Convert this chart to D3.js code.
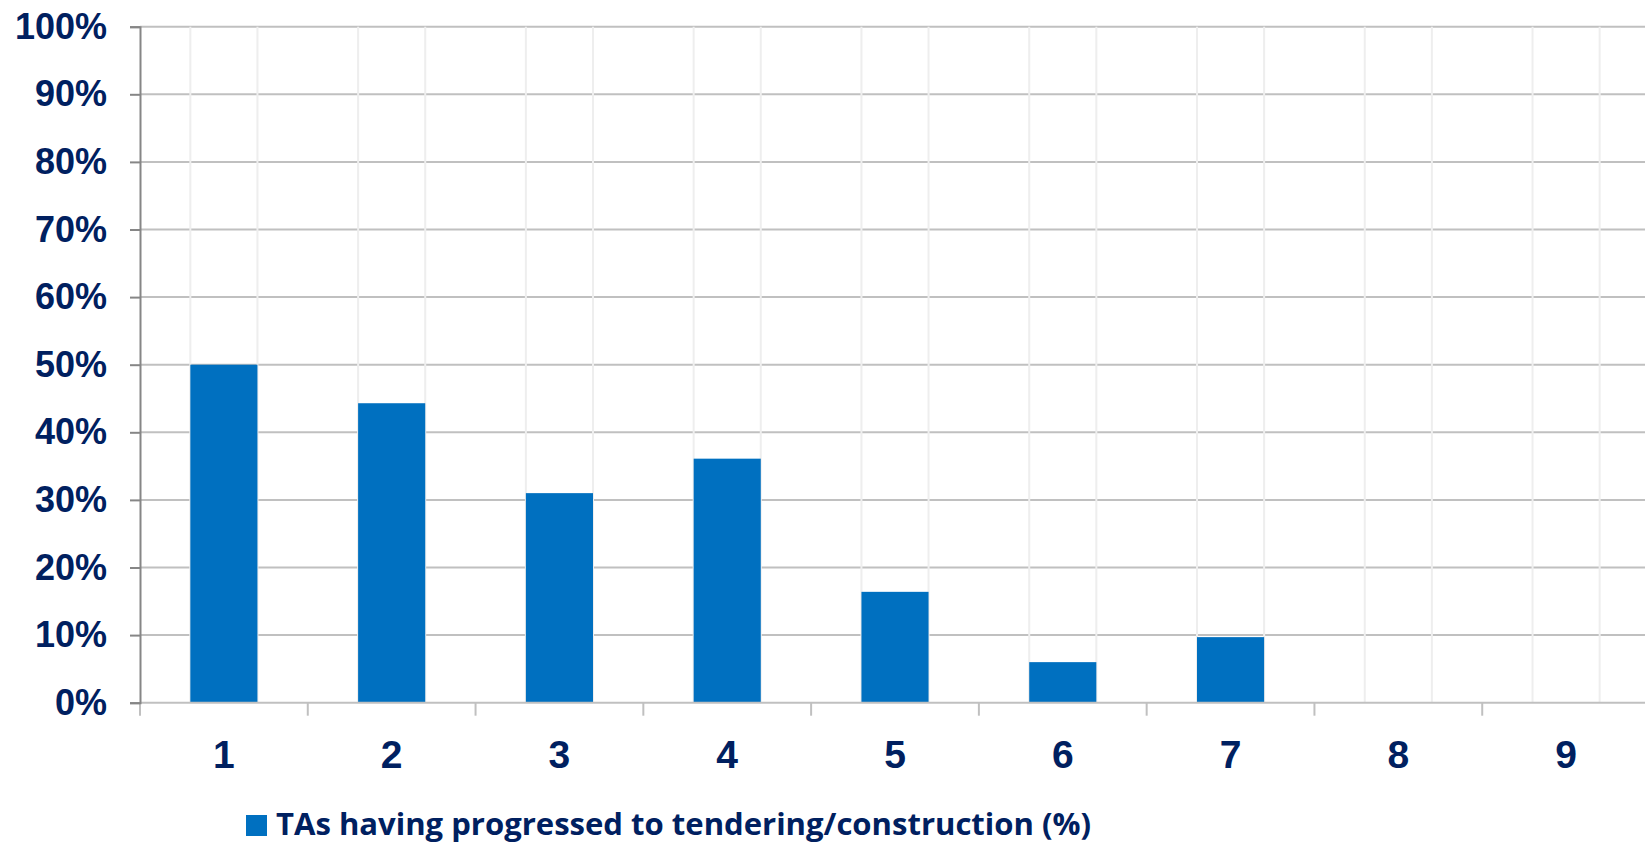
<!DOCTYPE html>
<html>
<head>
<meta charset="utf-8">
<script src="https://cdn.jsdelivr.net/npm/d3@7"></script>
<style>
  html, body { margin: 0; padding: 0; background: #ffffff; overflow: hidden; }
</style>
</head>
<body>
<script>
// #Data
const categories = ['1', '2', '3', '4', '5', '6', '7', '8', '9'];
const progressed = [0.50, 0.443, 0.31, 0.361, 0.164, 0.06, 0.097, 0, 0];
const yTicks = [0, 0.1, 0.2, 0.3, 0.4, 0.5, 0.6, 0.7, 0.8, 0.9, 1];
const seriesName = 'TAs having progressed to tendering/construction (%)';

// #Define SVG
const width = 1645, height = 846;
const navy = '#002060', barColor = '#0070c0';

const svg = d3.select('body')
              .append('svg')
              .attr('width', width)
              .attr('height', height);

const plotLeft = 140, plotBottom = 702.7, plotTop = 26.7;

// #Scales
const xScale = d3.scaleBand()
                 .domain(categories)
                 .range([plotLeft, 1650])
                 .paddingInner(0)
                 .paddingOuter(0);

const yScale = d3.scaleLinear()
                 .domain([0, 1])
                 .range([plotBottom, plotTop]);

const barW = xScale.bandwidth() * 0.4;
const barOff = xScale.bandwidth() * 0.3;

// #Horizontal gridlines
svg.append('g')
   .selectAll('line')
   .data(yTicks.filter(d => d > 0))
   .enter()
   .append('line')
   .attr('x1', plotLeft)
   .attr('x2', width)
   .attr('y1', d => yScale(d))
   .attr('y2', d => yScale(d))
   .attr('stroke', '#c0c0c0')
   .attr('stroke-width', 2);

// #Vertical light gridlines at bar edges
const edges = [];
categories.forEach(c => {
    edges.push(xScale(c) + barOff);
    edges.push(xScale(c) + barOff + barW);
});
svg.append('g')
   .selectAll('line')
   .data(edges)
   .enter()
   .append('line')
   .attr('x1', d => d)
   .attr('x2', d => d)
   .attr('y1', plotTop)
   .attr('y2', plotBottom)
   .attr('stroke', '#eeeeee')
   .attr('stroke-width', 2);

// #Bars
svg.append('g')
   .selectAll('rect')
   .data(progressed)
   .enter()
   .append('rect')
   .attr('x', (d, i) => xScale(categories[i]) + barOff)
   .attr('y', d => yScale(d))
   .attr('width', barW)
   .attr('height', d => plotBottom - yScale(d))
   .attr('fill', barColor);

// #X axis
const xAxis = svg.append('g');
xAxis.append('line')
     .attr('x1', plotLeft)
     .attr('x2', width)
     .attr('y1', plotBottom)
     .attr('y2', plotBottom)
     .attr('stroke', '#c0c0c0')
     .attr('stroke-width', 2);
xAxis.selectAll('.xtick')
     .data(categories)
     .enter()
     .append('line')
     .attr('x1', d => xScale(d))
     .attr('x2', d => xScale(d))
     .attr('y1', plotBottom)
     .attr('y2', plotBottom + 13)
     .attr('stroke', '#c0c0c0')
     .attr('stroke-width', 2);
xAxis.selectAll('text')
     .data(categories)
     .enter()
     .append('text')
     .attr('x', d => xScale(d) + xScale.bandwidth() / 2)
     .attr('y', 768)
     .attr('text-anchor', 'middle')
     .attr('font-family', '"Liberation Sans", Arial, sans-serif')
     .attr('font-weight', 'bold')
     .attr('font-size', 39)
     .attr('fill', navy)
     .text(d => d);

// #Y axis
const yAxis = d3.axisLeft(yScale)
                .tickValues(yTicks)
                .tickFormat(d3.format('.0%'))
                .tickSize(10)
                .tickPadding(23);

const yG = svg.append('g')
              .attr('transform', 'translate(' + plotLeft + ',0)')
              .call(yAxis);
yG.select('.domain')
  .attr('stroke', '#868686')
  .attr('stroke-width', 2);
yG.selectAll('.tick line')
  .attr('stroke', '#868686')
  .attr('stroke-width', 2);
yG.selectAll('.tick text')
  .attr('font-family', '"Liberation Sans", Arial, sans-serif')
  .attr('font-weight', 'bold')
  .attr('font-size', 36)
  .attr('fill', navy);

// #Legend
const legend = svg.append('g');
legend.append('rect')
      .attr('x', 246)
      .attr('y', 815)
      .attr('width', 21)
      .attr('height', 21)
      .attr('fill', barColor);
legend.append('text')
      .attr('x', 276)
      .attr('y', 835)
      .attr('font-family', '"Open Sans", sans-serif')
      .attr('font-weight', 'bold')
      .attr('font-size', 31)
      .attr('textLength', 815)
      .attr('lengthAdjust', 'spacingAndGlyphs')
      .attr('fill', navy)
      .text(seriesName);
</script>
</body>
</html>
